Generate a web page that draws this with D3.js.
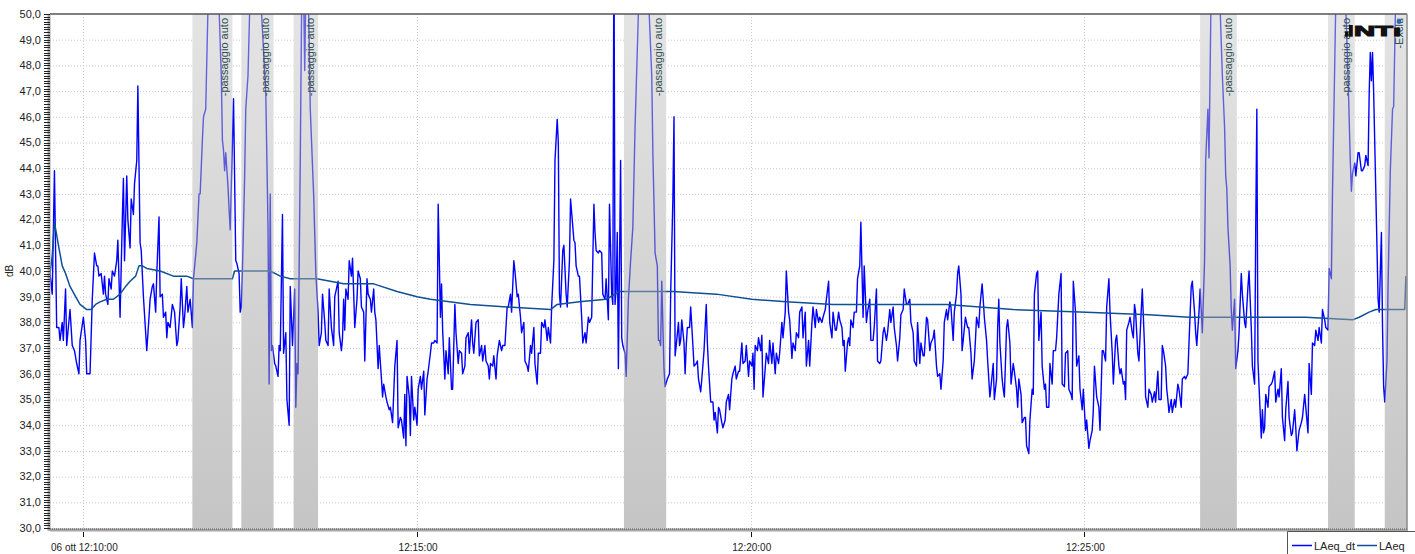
<!DOCTYPE html>
<html lang="it">
<head>
  <meta charset="UTF-8">
  <title>LAeq</title>
  <script src="https://cdn.jsdelivr.net/npm/d3@7"></script>
  <style>
    body { margin: 0; background: #fff; }
    text { font-family: "Liberation Sans", Arial, sans-serif; }
  </style>
</head>
<body>
  <svg width="1415" height="554"></svg>
  <script>
    // seconds relative to 06 ott 12:10:00
    var startTime = new Date(2023, 9, 6, 12, 10, 0);
    var domainSeconds = [-30, 1190];
    var yTickValues = [30, 31, 32, 33, 34, 35, 36, 37, 38, 39, 40, 41, 42, 43, 44, 45, 46, 47, 48, 49, 50];
    var xTickSeconds = [0, 300, 600, 900];
    var xTickLabels = ['06 ott 12:10:00', '12:15:00', '12:20:00', '12:25:00'];
    var seriesNames = ['LAeq_dt', 'LAeq'];

    var bands = [
      [98, 134, '-passaggio auto'],
      [142, 171, '-passaggio auto'],
      [189, 211, '-passaggio auto'],
      [486, 524, '-passaggio auto'],
      [1004, 1037, '-passaggio auto'],
      [1119, 1143, '-passaggio auto'],
      [1170, 1190, '-Exclu']
    ];

    var laeqDt = [
      [-30,39.9],[-28,39.1],[-26,43.9],[-24,37.8],[-22,37.8],[-21,37.3],[-19,38.0],[-18,37.3],[-16,39.3],[-15,37.1],[-12,38.5],[-10,37.1],[-8,36.9],[-6,36.4],[-4,36.0],[-3,37.3],[0,38.2],[2,37.3],[3,36.0],[6,36.0],[8,38.9],[10,40.7],[12,40.2],[13,40.2],[14,39.8],[16,39.9],[18,39.1],[19,39.8],[20,39.1],[22,38.7],[23,39.7],[25,39.3],[26,40.0],[28,39.8],[30,40.4],[31,41.2],[33,38.2],[35,42.0],[36,43.6],[37,40.4],[39,43.7],[40,42.0],[42,40.9],[43,42.8],[45,42.2],[46,43.4],[48,44.3],[49,47.2],[51,41.1],[52,40.8],[54,39.0],[57,36.9],[59,38.2],[60,38.9],[62,39.4],[63,39.5],[65,38.4],[66,39.9],[68,42.1],[69,39.0],[71,39.1],[72,38.2],[74,38.4],[75,37.4],[76,38.0],[78,37.8],[80,38.7],[82,38.4],[84,37.1],[85,37.3],[87,38.6],[88,39.7],[90,37.8],[91,38.2],[93,39.4],[94,38.4],[96,38.9],[98,37.8],[99,39.7],[102,41.1],[104,43.0],[105,43.0],[107,45.1],[108,46.0],[110,46.3],[116,58],[124,47.6],[125,45.1],[126,44.7],[127,43.9],[128,44.6],[130,43.3],[131,42.4],[132,41.6],[135,46.7],[137,40.4],[138,40.3],[140,39.9],[141,38.4],[142,38.6],[143,40.0],[145,43.7],[146,46.3],[148,47.6],[153,56],[164,46.9],[166,41.7],[167,35.6],[168,43.0],[169,36.9],[170,37.1],[172,36.4],[173,36.3],[175,35.9],[176,37.1],[177,36.9],[179,42.2],[180,36.8],[182,37.6],[183,35.0],[185,34.0],[186,39.4],[188,37.1],[190,39.3],[191,34.7],[192,36.4],[193,36.0],[195,44.3],[197,54],[199,47.8],[201,54],[204,46.3],[207,43.0],[209,39.9],[211,38.4],[212,37.1],[214,37.6],[215,39.1],[217,38.0],[218,37.3],[220,37.1],[221,39.3],
      [223,37.8],[225,37.1],[226,39.0],[228,39.4],[229,39.6],[230,37.6],[232,36.9],[233,37.4],[234,38.9],[235,37.7],[236,39.3],[238,38.9],[239,40.4],[241,39.8],[242,40.5],[244,37.8],[246,38.9],[247,40.0],[249,39.7],[250,38.6],[252,38.4],[253,36.5],[255,39.7],[256,39.1],[258,38.9],[259,38.4],[261,39.3],[262,38.4],[263,38.1],[265,36.2],[266,37.1],[268,35.8],[269,35.1],[270,35.6],[272,35.1],[273,34.9],[275,34.6],[276,34.7],[278,34.1],[280,36.3],[282,37.3],[283,33.9],[285,34.3],[286,34.2],[288,33.5],[289,35.2],[290,33.2],[291,35.9],[293,35.1],[294,33.6],[295,35.9],[297,34.2],[298,34.7],[300,34.0],[301,35.4],[303,35.9],[304,35.4],[306,36.1],[307,34.4],[309,35.8],[310,36.1],[312,36.8],[313,37.2],[315,37.2],[316,37.3],[318,37.2],[319,42.6],[321,38.2],[322,39.5],[323,37.7],[325,35.8],[326,36.9],[328,36.0],[329,37.4],[331,35.4],[332,35.4],[334,38.7],[335,37.6],[337,36.4],[338,36.9],[340,36.8],[341,36.0],[343,36.3],[344,37.4],[346,37.6],[347,36.8],[349,38.1],[350,37.2],[351,36.8],[353,38.0],[355,38.1],[356,36.7],[358,37.1],[359,36.5],[361,37.1],[362,36.5],[364,36.3],[365,35.8],[366,36.4],[368,36.3],[369,36.7],[371,35.8],[372,36.7],[374,37.3],[376,36.9],[377,37.1],[379,37.1],[381,38.6],[382,38.6],[384,39.1],[385,38.4],[387,40.4],[388,40.0],[390,39.0],[391,39.1],[393,38.2],[394,37.6],[396,38.0],[397,36.5],[399,36.3],[400,36.1],[402,37.1],[403,36.8],[405,37.8],[406,36.4],[408,35.6],[409,36.8],[411,36.8],[412,38.0],[414,37.8],[415,38.1],[417,37.3],[418,37.8],[420,37.2],[421,38.6],[423,40.4],[424,44.3],[426,45.9],[427,45.0],[428,39.1],[429,38.6],[431,40.8],[432,41.0],[434,39.1],[435,38.6],[437,40.4],[438,42.8],[441,41.2],[442,41.1],[443,40.2],[445,39.8],[446,39.8],[448,38.2],[449,37.2],[451,37.6],[452,37.2],[454,38.2],[455,38.0],[457,38.2],[458,40.4],[459,42.6],[460,41.5],[461,40.8],[463,40.7],[464,40.8],[466,40.7],[467,39.1],[469,38.9],[470,39.7],[472,38.1],[473,42.6],
      [475,39.1],[476,38.7],[477,53],[478,38.7],[479,39.3],[480,41.5],[481,36.2],[483,44.3],[484,37.4],[485,37.1],[487,36.8],[488,35.9],[490,38.9],[492,40.4],[494,41.7],[496,45.6],[503,56],[511,47.6],[512,44.6],[514,40.7],[516,40.2],[517,37.3],[518,37.3],[519,37.1],[520,39.6],[522,36.2],[523,35.5],[525,35.8],[527,36.0],[528,39.1],[530,42.8],[531,46.0],[532,36.7],[533,37.1],[535,38.0],[536,37.1],[537,37.3],[538,38.1],[540,37.2],[541,36.0],[542,37.1],[543,37.8],[545,37.8],[546,38.6],[548,37.1],[549,36.3],[551,36.4],[552,36.5],[553,35.8],[555,35.3],[556,35.8],[558,36.9],[560,38.7],[561,37.2],[562,36.3],[564,34.9],[566,34.9],[567,34.2],[568,34.5],[570,33.7],[571,34.7],[572,34.6],[574,34.1],[575,33.9],[577,34.2],[578,34.9],[580,35.2],[581,34.6],[583,35.8],[584,36.0],[586,36.3],[587,35.8],[589,36.1],[590,36.1],[592,37.2],[593,36.4],[595,36.5],[596,37.1],[598,35.9],[599,36.5],[601,36.3],[602,36.8],[603,35.4],[604,37.1],[606,36.9],[607,37.4],[609,36.9],[610,37.5],[611,35.1],[613,36.2],[614,36.8],[616,36.4],[617,37.3],[619,36.4],[620,37.2],[622,36.0],[623,36.8],[625,36.4],[626,36.8],[628,38.0],[629,37.4],[631,38.4],[632,40.0],[634,38.4],[635,38.1],[637,36.6],[638,37.2],[640,36.9],[641,37.6],[643,37.4],[644,38.4],[646,38.6],[647,37.4],[649,38.4],[650,36.3],[652,37.3],[653,36.3],[655,38.0],[656,38.6],[658,37.8],[659,38.5],[661,38.0],[662,38.2],[664,38.0],[665,38.2],[667,38.5],[668,38.9],[670,39.6],[671,38.0],[673,37.4],[674,38.4],[676,37.7],[677,37.7],[679,38.4],[680,38.1],[682,37.8],[683,37.1],[684,37.3],[685,36.1],[687,37.2],[688,37.4],[689,37.1],[690,38.1],[692,37.8],[693,38.4],[695,38.4],[696,39.7],[698,40.2],[699,41.9],[701,38.2],[702,40.2],[704,38.0],[705,38.4],[707,38.9],[708,37.3],[710,37.3],[711,37.8],[713,39.3],[714,36.5],[716,36.4],[717,36.5],[719,37.6],[720,37.8],[722,37.3],[723,37.6],[725,38.5],
      [726,38.0],[728,38.6],[729,37.8],[731,37.1],[732,36.5],[734,37.4],[735,38.3],[737,38.5],[738,39.3],[740,38.7],[741,38.7],[743,38.9],[744,38.0],[746,37.6],[747,36.5],[749,36.3],[750,38.0],[752,36.4],[753,37.2],[755,36.7],[756,36.7],[758,38.2],[759,38.1],[761,36.9],[762,37.2],[764,37.4],[765,37.7],[767,36.3],[768,35.9],[770,36.0],[771,35.4],[773,36.5],[774,38.0],[776,38.5],[777,38.1],[779,38.8],[780,38.6],[782,37.3],[783,38.4],[785,39.1],[786,39.9],[787,40.2],[789,39.1],[790,36.9],[791,37.3],[793,38.2],[795,37.8],[796,37.8],[798,36.8],[799,35.8],[801,36.5],[802,37.3],[803,38.2],[805,37.8],[806,38.6],[808,39.5],[809,38.9],[810,38.2],[812,37.3],[813,36.5],[815,35.1],[816,35.5],[818,36.4],[819,35.0],[821,35.8],[822,37.8],[823,38.9],[824,37.2],[826,35.8],[827,35.4],[828,35.1],[830,37.8],[831,38.1],[833,37.2],[834,35.6],[836,36.4],[837,36.1],[839,35.4],[840,34.7],[841,35.8],[843,35.2],[844,34.1],[846,34.3],[847,34.3],[848,33.2],[850,32.9],[851,34.2],[853,35.4],[854,35.2],[855,39.1],[857,39.9],[858,40.0],[859,37.3],[861,38.4],[862,36.3],[864,35.4],[865,35.6],[866,34.7],[868,34.7],[869,36.4],[871,35.6],[872,36.9],[874,36.9],[875,37.4],[877,39.1],[879,39.9],[880,35.6],[882,35.5],[883,36.8],[885,36.9],[886,35.4],[888,35.2],[889,35.0],[890,39.6],[892,38.4],[893,36.3],[895,36.7],[896,35.4],[898,34.6],[899,35.4],[901,33.8],[902,34.2],[904,33.1],[905,33.4],[907,33.8],[908,34.6],[909,36.3],[910,35.7],[911,35.1],[913,34.7],[914,33.8],[916,36.9],[917,36.9],[919,36.5],[920,38.6],[922,39.7],[923,38.4],[925,36.8],[926,35.6],[928,37.3],[929,37.5],[931,36.3],[932,36.0],[933,36.2],[935,35.6],[936,35.7],[937,35.0],[938,37.7],[940,38.0],[941,38.2],[943,37.6],[944,37.4],[945,38.7],[946,38.4],[948,36.8],[949,36.5],[951,38.4],[952,39.3],[954,37.1],[955,35.1],[957,34.7],[958,35.4],
      [960,35.2],[961,34.9],[963,35.3],[964,34.9],[966,36.1],[967,35.0],[969,35.0],[970,37.1],[971,36.9],[973,36.3],[974,35.4],[975,35.0],[976,34.5],[978,35.0],[979,34.5],[981,35.0],[982,34.7],[984,35.6],[985,35.4],[987,34.7],[988,35.8],[990,35.9],[991,35.8],[993,36.0],[994,37.2],[996,39.4],[997,39.6],[999,38.4],[1000,37.6],[1001,37.1],[1003,38.4],[1004,39.3],[1005,38.5],[1006,37.6],[1008,40.4],[1009,44.3],[1011,46.3],[1012,44.4],[1016,58],[1024,47.6],[1026,45.6],[1027,43.7],[1028,43.2],[1029,41.7],[1031,40.2],[1032,38.5],[1033,37.7],[1035,38.9],[1036,36.2],[1038,36.9],[1039,37.6],[1041,39.9],[1042,39.1],[1044,38.0],[1045,37.8],[1047,39.4],[1048,40.0],[1050,37.8],[1051,36.3],[1053,35.6],[1054,41.7],[1055,46.3],[1056,36.5],[1058,34.5],[1059,33.5],[1060,34.6],[1061,33.7],[1062,33.9],[1063,35.2],[1065,34.7],[1066,35.5],[1068,35.6],[1069,35.7],[1071,36.1],[1072,34.9],[1074,35.4],[1075,35.1],[1077,36.2],[1078,34.3],[1080,33.4],[1081,34.6],[1083,35.7],[1084,34.3],[1086,33.6],[1087,33.7],[1089,34.6],[1090,33.9],[1091,33.0],[1093,33.8],[1095,34.1],[1096,34.3],[1098,35.2],[1099,34.7],[1101,33.7],[1102,36.4],[1104,35.2],[1105,37.2],[1107,37.1],[1108,37.7],[1110,37.3],[1111,37.8],[1113,37.2],[1114,38.5],[1116,38.1],[1117,37.8],[1119,37.7],[1120,40.1],[1122,39.7],[1123,43.0],[1129,58],[1137,47.6],[1139,44.3],[1140,43.1],[1141,43.8],[1143,44.2],[1144,43.7],[1146,44.6],[1147,44.6],[1149,43.9],[1150,43.9],[1152,44.1],[1153,44.5],[1155,44.1],[1156,46.9],[1157,48.5],[1158,47.4],[1159,48.5],[1160,47.0],[1162,43.0],[1164,38.9],[1165,38.4],[1167,41.5],[1168,37.8],[1169,35.5],[1170,34.9],[1172,36.5],[1173,39.5],[1175,43.9],[1177,46.3],[1178,46.4],[1183,58],[1190,58]
    ];

    var laeq = [
      [-30,39.9],[-28,40.6],[-26,41.9],[-22,40.9],[-19,40.2],[-16,39.9],[-12,39.4],[-7,39.0],[-3,38.7],[3,38.5],[7,38.5],[11,38.7],[15,38.8],[21,38.9],[27,38.9],[33,39.1],[38,39.4],[42,39.6],[47,39.8],[50,40.2],[53,40.2],[57,40.1],[69,40.0],[81,39.8],[93,39.8],[99,39.7],[134,39.7],[136,40.0],[168,40.0],[177,39.8],[186,39.7],[210,39.7],[222,39.6],[234,39.5],[261,39.5],[282,39.2],[300,39.0],[312,38.9],[348,38.7],[381,38.6],[420,38.5],[426,38.7],[446,38.8],[470,38.9],[482,39.2],[530,39.2],[569,39.1],[601,38.9],[632,38.8],[674,38.7],[725,38.7],[776,38.7],[836,38.5],[896,38.4],[958,38.3],[994,38.2],[1054,38.2],[1099,38.2],[1141,38.1],[1147,38.2],[1156,38.4],[1162,38.5],[1188,38.5],[1189,39.8]
    ];

    var plotLeft = 50, plotTop = 14, plotWidth = 1357, plotHeight = 514;
    var svg = d3.select('svg');
    var toDate = function(s) { return new Date(startTime.getTime() + s * 1000); };

    var x = d3.scaleTime().domain(domainSeconds.map(toDate)).range([0, plotWidth]);
    var y = d3.scaleLinear().domain([30, 50]).range([plotHeight, 0]);

    var defs = svg.append('defs');
    defs.append('clipPath').attr('id', 'plotClip')
      .append('rect').attr('width', plotWidth).attr('height', plotHeight);
    var grad = defs.append('linearGradient').attr('id', 'bandFill')
      .attr('x1', 0).attr('y1', 0).attr('x2', 0).attr('y2', 1);
    grad.append('stop').attr('offset', '0%').attr('stop-color', 'rgb(201,201,201)');
    grad.append('stop').attr('offset', '100%').attr('stop-color', 'rgb(139,139,139)');

    var chart = svg.append('g')
      .attr('transform', 'translate(' + plotLeft + ',' + plotTop + ')');

    // grid
    chart.append('g').selectAll('line').data(yTickValues.slice(1, -1)).enter().append('line')
      .attr('x1', 0).attr('x2', plotWidth)
      .attr('y1', function(d) { return y(d) + 0.5; }).attr('y2', function(d) { return y(d) + 0.5; })
      .attr('stroke', '#c8c8c8').attr('stroke-dasharray', '1,2');
    chart.append('g').selectAll('line').data(xTickSeconds).enter().append('line')
      .attr('x1', function(d) { return Math.round(x(toDate(d))) + 0.5; })
      .attr('x2', function(d) { return Math.round(x(toDate(d))) + 0.5; })
      .attr('y1', 0).attr('y2', plotHeight)
      .attr('stroke', '#c8c8c8').attr('stroke-dasharray', '1,2');

    // white under the bands hides the grid
    chart.append('g').selectAll('rect').data(bands).enter().append('rect')
      .attr('x', function(d) { return x(toDate(d[0])); })
      .attr('width', function(d) { return x(toDate(d[1])) - x(toDate(d[0])); })
      .attr('y', 0).attr('height', plotHeight).attr('fill', '#fff');

    var line = d3.line()
      .x(function(d) { return x(toDate(d[0])); })
      .y(function(d) { return y(d[1]); });

    var lines = chart.append('g').attr('clip-path', 'url(#plotClip)');
    lines.append('path').datum(laeqDt)
      .attr('fill', 'none').attr('stroke', '#0000ff').attr('stroke-width', 1.4)
      .attr('stroke-linejoin', 'round').attr('d', line);
    lines.append('path').datum(laeq)
      .attr('fill', 'none').attr('stroke', '#0f4f96').attr('stroke-width', 1.5)
      .attr('stroke-linejoin', 'round').attr('d', line);

    // bands over the lines
    chart.append('g').selectAll('rect').data(bands).enter().append('rect')
      .attr('x', function(d) { return x(toDate(d[0])); })
      .attr('width', function(d) { return x(toDate(d[1])) - x(toDate(d[0])); })
      .attr('y', 0).attr('height', plotHeight)
      .attr('fill', 'url(#bandFill)').attr('fill-opacity', 0.5);

    chart.append('g').selectAll('text').data(bands).enter().append('text')
      .attr('transform', function(d) {
        return 'translate(' + (x(toDate(d[1])) - 4.5) + ',4) rotate(-90)';
      })
      .attr('text-anchor', 'end')
      .attr('font-size', 11)
      .attr('fill', '#2f4f4f')
      .text(function(d) { return d[2]; });

    // frame
    chart.append('line').attr('x1', 0).attr('x2', plotWidth).attr('y1', 0).attr('y2', 0)
      .attr('stroke', '#555').attr('stroke-width', 1.3);
    chart.append('line').attr('x1', plotWidth).attr('x2', plotWidth).attr('y1', 0).attr('y2', plotHeight + 3)
      .attr('stroke', '#8a8a8a').attr('stroke-width', 1.5);

    // y axis
    chart.append('rect').attr('x', -2.5).attr('y', 0).attr('width', 3).attr('height', plotHeight + 3)
      .attr('fill', '#a8a8a8');
    chart.append('g').selectAll('line').data(y.ticks(200)).enter().append('line')
      .attr('x1', -6).attr('x2', 0)
      .attr('y1', function(d) { return Math.round(y(d)) + 0.5; })
      .attr('y2', function(d) { return Math.round(y(d)) + 0.5; })
      .attr('stroke', '#222');
    chart.append('g').selectAll('text').data(yTickValues).enter().append('text')
      .attr('x', -9).attr('y', function(d) { return y(d); }).attr('dy', '0.35em')
      .attr('text-anchor', 'end').attr('font-size', 11).attr('fill', '#222')
      .text(function(d) { return d3.format('.1f')(d).replace('.', ','); });
    svg.append('text')
      .attr('transform', 'translate(13,' + (plotTop + plotHeight / 2) + ') rotate(-90)')
      .attr('text-anchor', 'middle').attr('font-size', 10).attr('fill', '#222')
      .text('dB');

    // x axis
    chart.append('rect').attr('x', 0).attr('y', plotHeight + 0.5).attr('width', plotWidth).attr('height', 3)
      .attr('fill', '#a8a8a8');
    chart.append('line').attr('x1', 0).attr('x2', plotWidth)
      .attr('y1', plotHeight + 1).attr('y2', plotHeight + 1)
      .attr('stroke', '#444').attr('stroke-dasharray', '1,1');
    chart.append('g').selectAll('line').data(xTickSeconds).enter().append('line')
      .attr('x1', function(d) { return Math.round(x(toDate(d))) + 0.5; })
      .attr('x2', function(d) { return Math.round(x(toDate(d))) + 0.5; })
      .attr('y1', plotHeight + 4).attr('y2', plotHeight + 9)
      .attr('stroke', '#111');
    chart.append('g').selectAll('text').data(xTickSeconds).enter().append('text')
      .attr('x', function(d) { return x(toDate(d)) + 1; })
      .attr('y', plotHeight + 23)
      .attr('text-anchor', 'middle').attr('font-size', 10).attr('fill', '#222')
      .text(function(d, i) { return xTickLabels[i]; });

    // legend
    var legend = svg.append('g');
    legend.append('path').attr('d', 'M1287.5,554V531.5H1415')
      .attr('fill', 'none').attr('stroke', '#555');
    var legendColors = ['#0000ff', '#0f4f96'];
    var legendX = [1292, 1357];
    seriesNames.forEach(function(name, i) {
      legend.append('line').attr('x1', legendX[i]).attr('x2', legendX[i] + 20)
        .attr('y1', 545.5).attr('y2', 545.5)
        .attr('stroke', legendColors[i]).attr('stroke-width', 1.5);
      legend.append('text').attr('x', legendX[i] + 22).attr('y', 549.5)
        .attr('font-size', 11).attr('fill', '#222').text(name);
    });

    // logo
    var logo = svg.append('g');
    logo.append('rect').attr('x', 1345).attr('y', 31.5).attr('width', 3.5).attr('height', 5.2).attr('fill', '#111');
    logo.append('rect').attr('x', 1349).attr('y', 25).attr('width', 3.8).attr('height', 11.7).attr('fill', '#111');
    logo.append('text').attr('x', 1354).attr('y', 36.2)
      .attr('font-size', 15.5).attr('font-weight', 'bold').attr('fill', '#111')
      .attr('stroke', '#111').attr('stroke-width', 1.1)
      .attr('textLength', 47).attr('lengthAdjust', 'spacingAndGlyphs')
      .text('NT\u0131');
    logo.append('circle').attr('cx', 1399).attr('cy', 21.5).attr('r', 2.4).attr('fill', '#2a6ab5');
  </script>
</body>
</html>
